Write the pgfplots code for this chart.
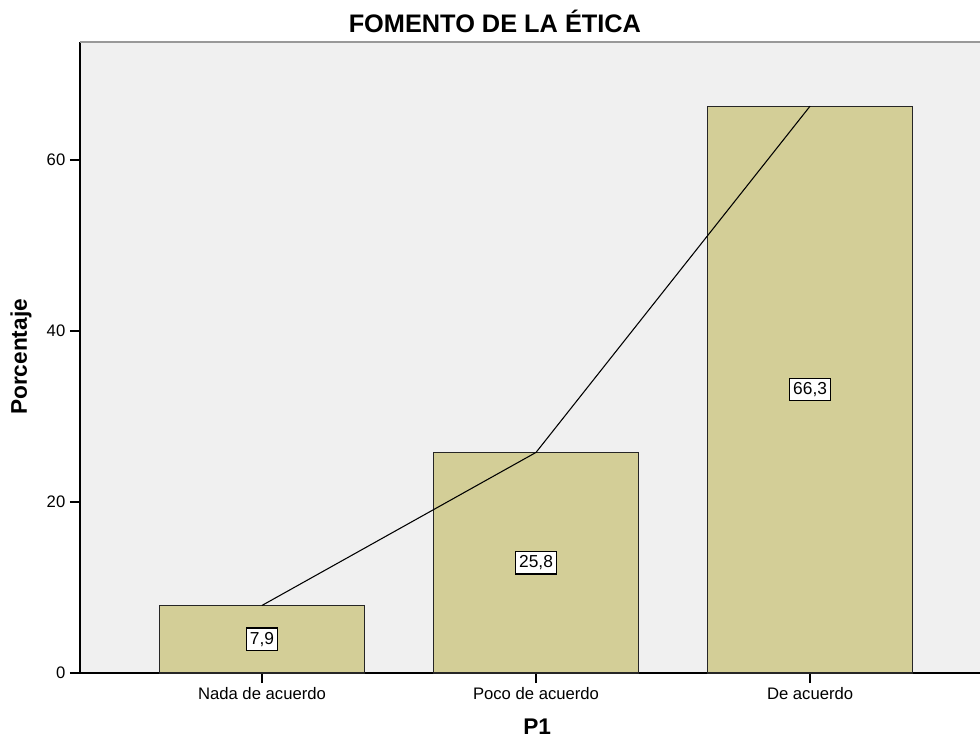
\documentclass[border=0pt]{standalone}
\usepackage{fontspec}
\setmainfont{Liberation Sans}
\usepackage{pgfplots}
\pgfplotsset{compat=1.18}

\definecolor{plotbg}{HTML}{F0F0F0}
\definecolor{barfill}{HTML}{D3CE97}

\begin{document}
\begin{tikzpicture}
% page: 980x740 px at 0.75pt per px
\useasboundingbox (-60pt,-50.25pt) rectangle (675pt,504.75pt);
\begin{axis}[
    scale only axis,
    width=675pt, height=473.25pt,
    xmin=-0.664, xmax=2.620,
    ymin=0, ymax=73.8,
    axis lines=left,
    x axis line style={-, black, line width=0.9pt},
    y axis line style={-, black, line width=0.9pt},
    axis background/.style={fill=plotbg},
    xtick={0,1,2},
    xticklabels={Nada de acuerdo,Poco de acuerdo,De acuerdo},
    ytick={0,20,40,60},
    tick align=outside,
    major tick length=7.5pt,
    tick style={black, line width=0.9pt},
    /pgf/number format/assume math mode=true,
    ticklabel style={font=\fontsize{12.5}{15}\selectfont},
    title={FOMENTO DE LA ÉTICA},
    title style={font=\bfseries\fontsize{19}{22}\selectfont,
        at={(axis description cs:0.461,1.0206)}, anchor=center},
    xlabel={P1},
    ylabel={Porcentaje},
    every axis x label/.style={font=\bfseries\fontsize{17}{20}\selectfont,
        at={(axis description cs:0.508,-0.085)}, anchor=center},
    every axis y label/.style={font=\bfseries\fontsize{17}{20}\selectfont,
        at={(axis description cs:-0.0655,0.5008)}, anchor=center, rotate=90},
    clip=false,
]
\addplot[ybar, bar width=0.748, fill=barfill, draw=black!85, line width=0.9pt]
    coordinates {(0,7.9) (1,25.8) (2,66.3)};
\addplot[black, line width=0.8pt, mark=none]
    coordinates {(0,7.9) (1,25.8) (2,66.3)};
\addplot[draw=none, mark=none, nodes near coords, point meta=explicit symbolic,
    nodes near coords align=center,
    every node near coord/.style={fill=white, draw=black, line width=1pt,
        inner xsep=2.8pt, inner ysep=3pt, anchor=center,
        font=\fontsize{13}{15}\selectfont}]
    coordinates {(0,3.95) [7,9] (1,12.9) [25,8] (2,33.15) [66,3]};
\draw[gray!80, line width=1.5pt] (rel axis cs:0,1) -- (rel axis cs:1,1);
\end{axis}
\end{tikzpicture}
\end{document}
